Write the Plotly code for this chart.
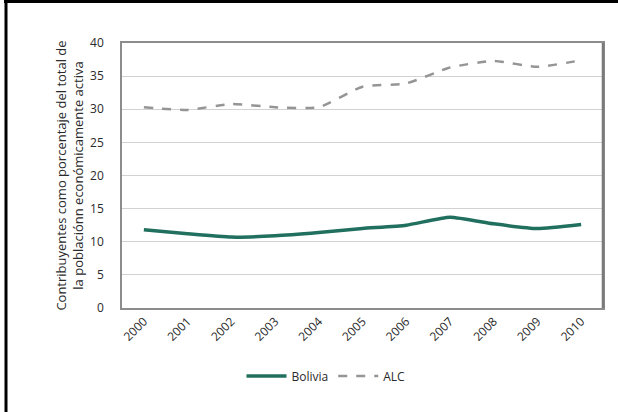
import plotly.graph_objects as go

years = ["2000", "2001", "2002", "2003", "2004", "2005", "2006", "2007", "2008", "2009", "2010"]
bolivia = [11.8, 11.2, 10.7, 10.9, 11.4, 12.0, 12.5, 13.7, 12.7, 12.0, 12.6]
alc = [30.3, 29.9, 30.8, 30.3, 30.3, 33.4, 33.9, 36.3, 37.3, 36.4, 37.4]
y_ticks = [0, 5, 10, 15, 20, 25, 30, 35, 40]

W, H = 618, 412
L, R, T, B = 122, 15, 43, 104
pw, ph = W - L - R, H - T - B

def px_x(x):
    return (x - L) / pw

def px_y(y):
    return (H - B - y) / ph

fig = go.Figure()
fig.add_trace(go.Scatter(x=years, y=bolivia, name="Bolivia", mode="lines",
                         line=dict(color="#21705f", width=3.5, shape="spline", smoothing=0.5)))
fig.add_trace(go.Scatter(x=years, y=alc, name="ALC", mode="lines",
                         line=dict(color="#959595", width=2.5, dash="dash", shape="spline", smoothing=0.5)))

shapes = [
    dict(type="line", xref="paper", yref="paper", x0=px_x(4), x1=px_x(620), y0=px_y(1.5), y1=px_y(1.5),
         line=dict(color="black", width=3)),
    dict(type="line", xref="paper", yref="paper", x0=px_x(6), x1=px_x(6), y0=px_y(0), y1=px_y(414),
         line=dict(color="black", width=3)),
    dict(type="line", xref="paper", yref="paper", x0=1, x1=1, y0=0, y1=1,
         line=dict(color="#7a7a7a", width=2.5)),
]

fig.update_layout(
    width=W, height=H,
    margin=dict(l=L, r=R, t=T, b=B, autoexpand=False),
    paper_bgcolor="white", plot_bgcolor="white",
    font=dict(family="Open Sans", color="#2a2a2a"),
    shapes=shapes,
    showlegend=True,
    legend=dict(orientation="h", x=px_x(326), xanchor="center", y=px_y(376), yanchor="middle",
                font=dict(size=12, color="#2a2a2a"), itemwidth=40, traceorder="normal"),
    xaxis=dict(type="category", range=[-0.5, 10.5], tickangle=-45,
               tickfont=dict(size=12, color="#2a2a2a"), automargin=False,
               showline=True, linecolor="#8c8c8c", linewidth=1.5, mirror=True,
               showgrid=False, ticks=""),
    yaxis=dict(range=[0, 40], tickvals=y_ticks, tickfont=dict(size=12, color="#2a2a2a"),
               automargin=False,
               showline=True, linecolor="#8c8c8c", linewidth=1.5, mirror=True,
               showgrid=True, gridcolor="#d2d2d2", gridwidth=1.2, zeroline=False, ticks="",
               ticklabelstandoff=14,
               title=dict(text="Contribuyentes como porcentaje del total de<br>la poblaciónn económicamente activa",
                          font=dict(size=13, color="#2a2a2a"), standoff=4)),
)

fig.write_html("out.html", config={"displayModeBar": False},
               post_script="document.body.style.margin='0';document.body.style.overflow='hidden';")
